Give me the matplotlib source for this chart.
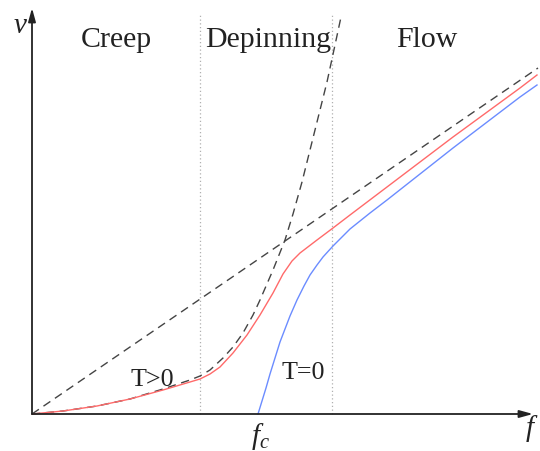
import matplotlib
matplotlib.use("Agg")
import matplotlib.pyplot as plt

plt.rcParams["font.family"] = ["Liberation Serif", "DejaVu Serif"]
plt.rcParams["mathtext.fontset"] = "custom"
plt.rcParams["mathtext.it"] = "Liberation Serif:italic"
plt.rcParams["mathtext.rm"] = "Liberation Serif"

# creep law (dashed)
creep_f = [0, 31, 65, 98, 131, 158, 168, 178, 191, 201, 211, 221, 228, 241, 253, 261, 270, 285, 295, 303, 309]
creep_v = [0, 3, 8, 15, 25, 34, 38, 44, 56, 67, 81, 99, 114, 144, 174, 200, 232, 292, 332, 369, 397]

# linear flow regime (dashed)
flow_f = [0, 506]
flow_v = [0, 346]

# finite temperature velocity
warm_f = [0, 31, 65, 98, 131, 158, 168, 178, 188, 201, 215, 228, 241, 251, 260, 268,
          285, 301, 318, 355, 421, 488, 505]
warm_v = [0, 3, 8, 15, 24, 32, 35, 40, 47, 61, 79, 99, 121, 140, 153, 161,
          174, 186, 199, 227, 277, 326, 339]

# zero temperature velocity, starts at f_c
cold_f = [226, 230, 234, 238, 243, 248, 258, 265, 272, 278, 285, 291, 301, 318, 338, 355, 421, 488, 505]
cold_v = [0, 13, 26, 40, 56, 72, 98, 114, 128, 139, 149, 157, 168, 185, 201, 214, 266, 317, 329]

regime_edges = [168, 300]
regime_names = ["Creep", "Depinning", "Flow"]
regime_x = [84, 236, 395]

fig = plt.figure(figsize=(5.4, 4.51), dpi=100)
ax = fig.add_axes([0, 0, 1, 1])
ax.set_xlim(-32, 508)
ax.set_ylim(-37, 414)
ax.axis("off")

for x in regime_edges:
    ax.plot([x, x], [0, 401], color="#b0b0b0", lw=0.9, ls=(0, (1, 2)))

ax.plot(creep_f, creep_v, color="#444444", lw=1.0, ls=(0, (6, 4)))
ax.plot(flow_f, flow_v, color="#444444", lw=1.0, ls=(0, (6, 4)))
ax.plot(warm_f, warm_v, color="#ff6a6a", lw=1.0)
ax.plot(cold_f, cold_v, color="#6b8cff", lw=1.0)

# axes with arrow heads
arrow = dict(arrowstyle="-|>,head_length=0.8,head_width=0.22", color="#222222", lw=1.3,
             shrinkA=0, shrinkB=0, mutation_scale=10)
ax.annotate("", xy=(501, 0), xytext=(0, 0), arrowprops=arrow)
ax.annotate("", xy=(0, 406), xytext=(0, 0), arrowprops=arrow)

for name, x in zip(regime_names, regime_x):
    ax.text(x, 367, name, fontsize=21.5, ha="center", va="baseline", color="#222222")

ax.text(120, 28, "T>0", fontsize=18.7, ha="center", va="baseline", color="#222222")
ax.text(271, 35, "T=0", fontsize=18.7, ha="center", va="baseline", color="#222222")

ax.text(-12, 381, "$v$", fontsize=21, ha="center", va="baseline", color="#222222")
ax.text(500, -15, "$f$", fontsize=21, ha="center", va="center", color="#222222")
ax.text(228, -22, "$f_c$", fontsize=21, ha="center", va="center", color="#222222")

fig.savefig("out.png", dpi=100)
